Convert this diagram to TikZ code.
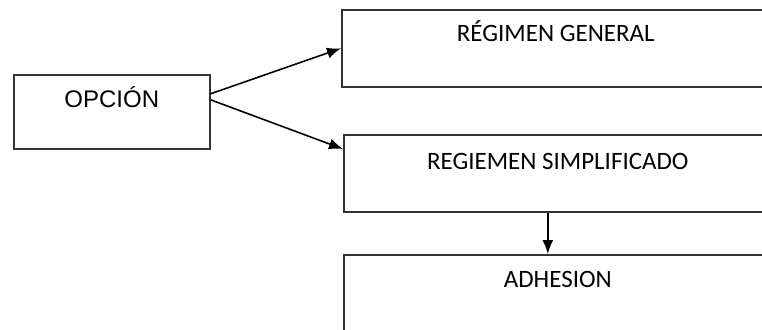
\documentclass[tikz,border=0pt]{standalone}
\usepackage{fontspec}
\setmainfont{Carlito}
\newfontfamily\arialfont{Liberation Sans}
\usetikzlibrary{arrows.meta}
\tikzset{
  >={Latex[length=14pt,width=11pt]},
}
\tikzstyle{box}=[draw=black!80,line width=1.6pt,inner sep=0pt,anchor=north west,font=\fontsize{25}{30}\selectfont]
\tikzstyle{link}=[line width=1.6pt,->]

\begin{document}
\begin{tikzpicture}[x=1pt,y=-1pt]
    \clip (0,0) rectangle (762,329);
    \node[box,font=\arialfont\fontsize{24}{28}\selectfont,minimum width=196pt,text height=32.5pt,text depth=41.5pt] (opcion) at (13,74) {OPCIÓN};
    \node[box,minimum width=428pt,text height=32pt,text depth=45pt] (general) at (341,9) {RÉGIMEN GENERAL};
    \node[box,minimum width=428pt,text height=35pt,text depth=42pt] (simpl) at (343,134) {REGIEMEN SIMPLIFICADO};
    \node[box,minimum width=428pt,text height=33pt,text depth=44pt] (adh) at (343,254) {ADHESION};
    \draw[link] ([yshift=18pt]opcion.east) -- (general.west);
    \draw[link] ([yshift=12pt]opcion.east) -- ([yshift=-15pt]simpl.north west);
    \draw[link] ([xshift=-10pt]simpl.south) -- ([xshift=-10pt]adh.north);
  \end{tikzpicture}
\end{document}
